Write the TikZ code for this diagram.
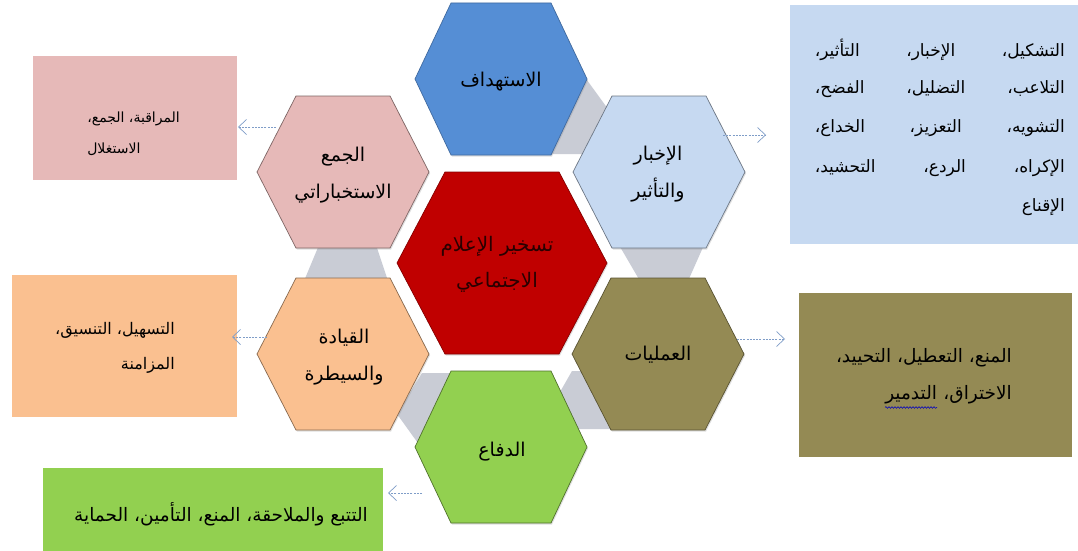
\documentclass[tikz,border=0pt]{standalone}
\usepackage{fontspec}
\TeXXeTstate=1
\newfontfamily\ar[Script=Arabic]{DejaVu Sans}
\usetikzlibrary{arrows.meta,decorations.pathmorphing,shadows}
\definecolor{cBlue}{HTML}{558ED5}
\definecolor{cBlueL}{HTML}{C6D9F1}
\definecolor{cPink}{HTML}{E6B9B8}
\definecolor{cPeach}{HTML}{FAC090}
\definecolor{cOlive}{HTML}{948A54}
\definecolor{cGreen}{HTML}{92D050}
\definecolor{cRed}{HTML}{C00000}
\definecolor{cGray}{HTML}{C9CCD5}
\definecolor{cArrow}{HTML}{7F9DC8}
\definecolor{cRedText}{HTML}{2A0000}
\newcommand\RL[1]{\beginR #1\endR}
% hexagon path: cx, cy, R (half width to side vertices), a (half top edge), h (half height)
\newcommand\hexpath[5]{(#1-#3,#2) -- (#1-#4,#2-#5) -- (#1+#4,#2-#5) -- (#1+#3,#2) -- (#1+#4,#2+#5) -- (#1-#4,#2+#5) -- cycle}
\tikzset{
  hexline/.style={line width=0.7pt, drop shadow={opacity=0.25, shadow xshift=1pt, shadow yshift=-1.5pt}},
  hextext/.style={font=\ar\fontsize{19}{37}\selectfont, align=center, text=black, inner sep=0pt},
  boxtext/.style={font=\ar\fontsize{17}{20}\selectfont, text=black, inner sep=0pt},
  conn/.style={draw=cArrow, line width=0.7pt, dash pattern=on 2pt off 1.2pt, -{Straight Barb[length=8pt,width=15pt,line width=0.7pt]}},
  graypiece/.style={fill=cGray}
}
\begin{document}
\begin{tikzpicture}[x=1pt,y=-1pt]
\useasboundingbox (0,0) rectangle (1078,551);
\fill[white] (0,0) rectangle (1078,551);

% ---------- side boxes ----------
\fill[cBlueL] (790,5) rectangle (1078,244);
\fill[cPink] (33,56) rectangle (237,180);
\fill[cPeach] (12,275) rectangle (237,417);
\fill[cOlive] (799,293) rectangle (1072,457);
\fill[cGreen] (43,468) rectangle (383,551);

% ---------- gray links (behind hexagons) ----------
\fill[graypiece] (584,76) -- (616,120) -- (602,154) -- (548,154) -- cycle;
\fill[graypiece] (619,245) -- (704,245) -- (688,281) -- (640,281) -- cycle;
\fill[graypiece] (572,371) -- (602,371) -- (619,429) -- (578,429) -- (560,392) -- cycle;
\fill[graypiece] (422,373) -- (474,373) -- (420,446) -- (397,414) -- cycle;
\fill[graypiece] (319,245) -- (376,245) -- (388,281) -- (304,281) -- cycle;

% ---------- hexagons ----------
\filldraw[hexline, fill=cBlue, draw=cBlue!75!black] \hexpath{501}{79}{86}{50}{76};
\filldraw[hexline, fill=cPink, draw=cPink!55!black] \hexpath{343}{172}{86}{47}{76};
\filldraw[hexline, fill=cBlueL, draw=cBlueL!55!black] \hexpath{659}{172}{86}{47}{76};
\filldraw[hexline, fill=cPeach, draw=cPeach!55!black] \hexpath{343}{354}{86}{47}{76};
\filldraw[hexline, fill=cOlive, draw=cOlive!60!black] \hexpath{658}{354}{86}{47}{76};
\filldraw[hexline, fill=cGreen, draw=cGreen!55!black] \hexpath{501}{447}{86}{50}{76};
\filldraw[hexline, fill=cRed, draw=cRed!70!black] \hexpath{502}{263}{105}{57}{91};

% ---------- hexagon labels ----------
\node[hextext] (tBlue) at (501,82) {\RL{الاستهداف}};
\node[hextext] (tPink) at (343,175) {\RL{الجمع}\\\RL{الاستخباراتي}};
\node[hextext] (tBlueL) at (658,174) {\RL{الإخبار}\\\RL{والتأثير}};
\node[hextext] (tPeach) at (344,357) {\RL{القيادة}\\\RL{والسيطرة}};
\node[hextext] (tOlive) at (658,355) {\RL{العمليات}};
\node[hextext] (tGreen) at (502,452) {\RL{الدفاع}};
\node[hextext, text=cRedText, font=\ar\fontsize{20}{36}\selectfont] (tRed) at (497,264) {\RL{تسخير الإعلام}\\\RL{الاجتماعي}};

% ---------- box texts ----------
\node[boxtext, anchor=east] (lb1) at (1065,50) {\hbox to 250pt{\beginR التشكيل،\hfil الإخبار،\hfil التأثير،\endR}};
\node[boxtext, anchor=east] (lb2) at (1065,89) {\hbox to 250pt{\beginR التلاعب،\hfil التضليل،\hfil الفضح،\endR}};
\node[boxtext, anchor=east] (lb3) at (1065,128) {\hbox to 250pt{\beginR التشويه،\hfil التعزيز،\hfil الخداع،\endR}};
\node[boxtext, anchor=east] (lb4) at (1065,168) {\hbox to 250pt{\beginR الإكراه،\hfil الردع،\hfil التحشيد،\endR}};
\node[boxtext, anchor=east] (lb5) at (1065,207) {\RL{الإقناع}};

\node[boxtext, anchor=east, font=\ar\fontsize{14}{20}\selectfont] (pk1) at (180,119) {\RL{المراقبة، الجمع،}};
\node[boxtext, anchor=west, font=\ar\fontsize{14}{20}\selectfont] (pk2) at (pk1.west |- 0,149) {\RL{الاستغلال}};

\node[boxtext, anchor=east, font=\ar\fontsize{16}{20}\selectfont] (pc1) at (175,330) {\RL{التسهيل، التنسيق،}};
\node[boxtext, anchor=east, font=\ar\fontsize{16}{20}\selectfont] (pc2) at (175,365) {\RL{المزامنة}};

\node[boxtext, anchor=east, font=\ar\fontsize{18.5}{20}\selectfont] (ol1) at (1012,358) {\RL{المنع، التعطيل، التحييد،}};
\node[boxtext, anchor=east, font=\ar\fontsize{18.5}{20}\selectfont] (ol2a) at (1012,395) {\RL{الاختراق،}};
\node[boxtext, anchor=east, font=\ar\fontsize{18.5}{20}\selectfont] (ol2b) at ([xshift=-6pt]ol2a.west) {\RL{التدمير}};
\draw[blue!75!black, line width=0.5pt, decorate, decoration={snake, amplitude=0.9pt, segment length=3pt}] ([yshift=-3pt]ol2b.south west) -- ([yshift=-3pt]ol2b.south east);

\node[boxtext, anchor=east, font=\ar\fontsize{18.5}{20}\selectfont] (gr1) at (368,514) {\RL{التتبع والملاحقة، المنع، التأمين، الحماية}};

% ---------- connectors ----------
\coordinate (aPinkS) at (276,127);  \coordinate (aPinkE) at (238,127);
\coordinate (aBlueLS) at (723,135); \coordinate (aBlueLE) at (766,135);
\coordinate (aPeachS) at (267,337); \coordinate (aPeachE) at (232,337);
\coordinate (aOliveS) at (737,339); \coordinate (aOliveE) at (785,339);
\coordinate (aGreenS) at (422,493); \coordinate (aGreenE) at (388,493);
\draw[conn] (aPinkS) -- (aPinkE);
\draw[conn] (aBlueLS) -- (aBlueLE);
\draw[conn] (aPeachS) -- (aPeachE);
\draw[conn] (aOliveS) -- (aOliveE);
\draw[conn] (aGreenS) -- (aGreenE);
\end{tikzpicture}
\end{document}
